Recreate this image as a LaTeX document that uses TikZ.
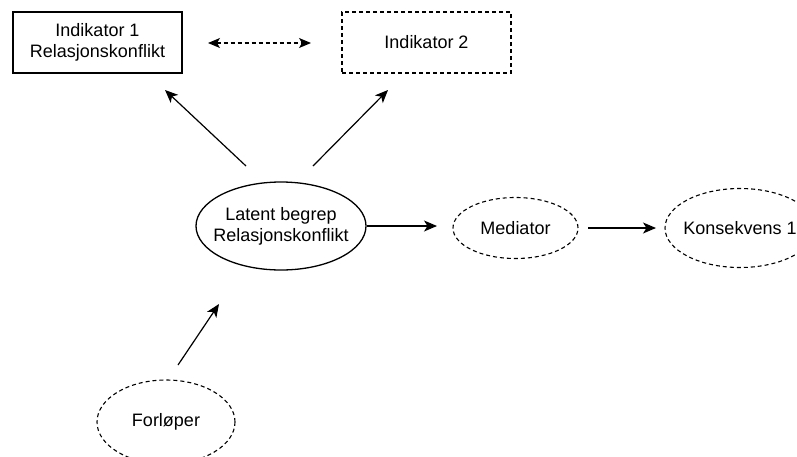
\documentclass[tikz,border=0pt]{standalone}
\usepackage{fontspec}
\setmainfont{Liberation Sans}
\usetikzlibrary{arrows.meta,shapes.geometric}
\begin{document}
\begin{tikzpicture}[x=1pt,y=-1pt,
  every node/.style={font=\fontsize{18}{21}\selectfont, align=center, inner sep=0pt},
  solidbox/.style={draw, line width=1.3pt, minimum width=169pt, minimum height=61pt},
  dashbox/.style={draw, dashed, dash pattern=on 4pt off 3pt, line width=1.1pt, minimum width=169pt, minimum height=61pt},
  % ellipse outline sized by minimum width/height; the text sits on top as a centred label
  solidell/.style={draw, ellipse, line width=1.3pt, label={[align=center]center:#1}},
  dashell/.style={draw, ellipse, dash pattern=on 4pt off 3pt, line width=1.1pt, label={[align=center]center:#1}},
  tip/.style={Stealth[length=13pt,width=11pt,inset=3.5pt]},
  conn/.style={line width=1.2pt, -{Stealth[length=13pt,width=11pt,inset=3.5pt]}},
  dconn/.style={line width=1.1pt, dash pattern=on 4pt off 3pt, {Stealth[length=12pt,width=10pt,inset=3pt]}-{Stealth[length=12pt,width=10pt,inset=3pt]}}
]
\useasboundingbox (0,0) rectangle (797,456);
\clip (0,0) rectangle (797,456);

% indicators
\node[solidbox] (ind1) at (97.5,42.5) {Indikator 1\\Relasjonskonflikt};
\node[dashbox] (ind2) at (426.5,42.5) {Indikator 2};

% ellipses
\node[solidell={Latent begrep\\Relasjonskonflikt}, minimum width=170pt, minimum height=88pt] (lat) at (281,226) {};
\node[dashell={Mediator}, minimum width=125pt, minimum height=61pt] (med) at (515.5,228) {};
\node[dashell={Konsekvens 1}, minimum width=150pt, minimum height=79pt] (kon) at (740,228) {};
\node[dashell={Forløper}, minimum width=138pt, minimum height=84pt] (for) at (166,422) {};

% connector end points
\coordinate (a1s) at (246,166); \coordinate (a1e) at (165,90);
\coordinate (a2s) at (313,166); \coordinate (a2e) at (388,90);
\coordinate (d1) at (208,43); \coordinate (d2) at (311,43);
\coordinate (f1) at (178,365); \coordinate (f2) at (219,304);
\coordinate (m1) at (588,228); \coordinate (m2) at (656,228);

\draw[dconn] (d1) -- (d2);
\draw[conn] (a1s) -- (a1e);
\draw[conn] (a2s) -- (a2e);
\draw[conn] (lat.east) -- (lat.east -| 437,0);
\draw[conn] (m1) -- (m2);
\draw[conn] (f1) -- (f2);
\end{tikzpicture}
\end{document}
